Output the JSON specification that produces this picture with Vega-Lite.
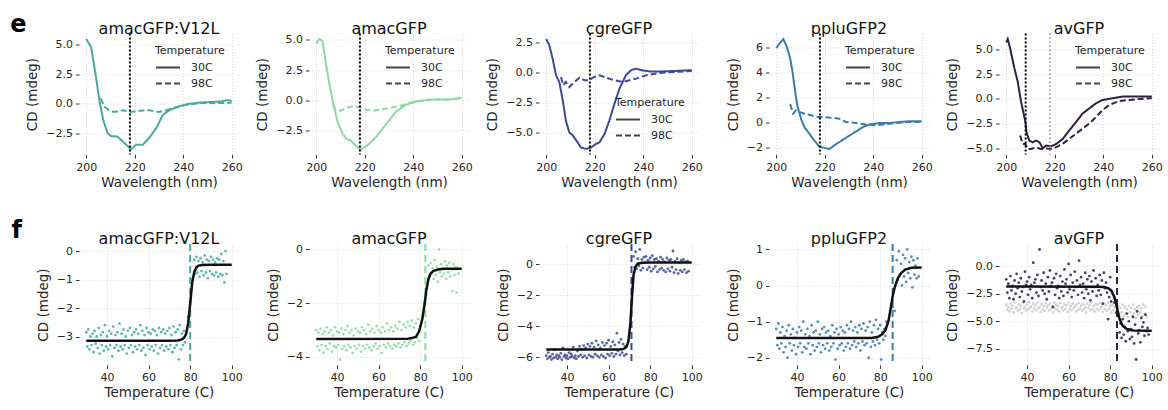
{
"$schema":"https://vega.github.io/schema/vega-lite/v6.json",
"padding":{"left":10,"top":12.5,"right":4,"bottom":4},
"datasets":{
"vt":[{"p":"A","x":218},{"p":"B","x":218},{"p":"C","x":218},{"p":"D","x":218},{"p":"E","x":208}],
"vt2":[{"p":"E","x":218}],
"vb":[{"p":"A","x":80},{"p":"B","x":82.5},{"p":"C","x":71},{"p":"D","x":86},{"p":"E","x":83.3}],
"sA":[{"t":"30C","x":200,"y":5.5},{"t":"30C","x":202,"y":4.8},{"t":"30C","x":204,"y":2.3},{"t":"30C","x":205.4,"y":0.3},{"t":"30C","x":207,"y":-1.4},{"t":"30C","x":208.8,"y":-2.5},{"t":"30C","x":210.2,"y":-2.75},{"t":"30C","x":212.9,"y":-2.8},{"t":"30C","x":215,"y":-3.2},{"t":"30C","x":217.8,"y":-3.75},{"t":"30C","x":218.5,"y":-3.85},{"t":"30C","x":220.5,"y":-3.5},{"t":"30C","x":223.3,"y":-3.5},{"t":"30C","x":226,"y":-2.9},{"t":"30C","x":228.8,"y":-2.1},{"t":"30C","x":231.6,"y":-0.95},{"t":"30C","x":234.3,"y":-0.55},{"t":"30C","x":238.5,"y":-0.2},{"t":"30C","x":242.6,"y":0.0},{"t":"30C","x":246.8,"y":0.1},{"t":"30C","x":252,"y":0.15},{"t":"30C","x":256,"y":0.2},{"t":"30C","x":258,"y":0.3},{"t":"30C","x":260,"y":0.25},
{"t":"98C","x":206,"y":0.45},{"t":"98C","x":207.4,"y":-0.25},{"t":"98C","x":209.4,"y":-0.55},{"t":"98C","x":211.5,"y":-0.7},{"t":"98C","x":215,"y":-0.55},{"t":"98C","x":218.5,"y":-0.7},{"t":"98C","x":222,"y":-0.6},{"t":"98C","x":226,"y":-0.55},{"t":"98C","x":230,"y":-0.7},{"t":"98C","x":233,"y":-0.55},{"t":"98C","x":237,"y":-0.3},{"t":"98C","x":241,"y":-0.1},{"t":"98C","x":247,"y":0.05},{"t":"98C","x":252,"y":0.05},{"t":"98C","x":258,"y":0.05},{"t":"98C","x":260,"y":0.1}],
"sB":[{"t":"30C","x":200,"y":4.7},{"t":"30C","x":201.2,"y":5.07},{"t":"30C","x":202.6,"y":4.9},{"t":"30C","x":204,"y":3.0},{"t":"30C","x":205.4,"y":1.33},{"t":"30C","x":206.8,"y":-0.1},{"t":"30C","x":208.8,"y":-1.8},{"t":"30C","x":210.9,"y":-2.8},{"t":"30C","x":212.3,"y":-3.2},{"t":"30C","x":214.3,"y":-3.35},{"t":"30C","x":216.4,"y":-3.8},{"t":"30C","x":217.8,"y":-4.05},{"t":"30C","x":219.2,"y":-4.0},{"t":"30C","x":222,"y":-3.6},{"t":"30C","x":224.7,"y":-3.05},{"t":"30C","x":227.4,"y":-2.35},{"t":"30C","x":230.2,"y":-1.65},{"t":"30C","x":232.9,"y":-0.95},{"t":"30C","x":237.1,"y":-0.37},{"t":"30C","x":241.2,"y":-0.1},{"t":"30C","x":246.8,"y":0.05},{"t":"30C","x":250.9,"y":0.05},{"t":"30C","x":255,"y":0.05},{"t":"30C","x":260,"y":0.2},
{"t":"98C","x":206.8,"y":-0.37},{"t":"98C","x":208.1,"y":-0.8},{"t":"98C","x":210.2,"y":-0.88},{"t":"98C","x":212.3,"y":-0.65},{"t":"98C","x":215,"y":-0.5},{"t":"98C","x":217.8,"y":-0.6},{"t":"98C","x":220.6,"y":-0.8},{"t":"98C","x":223.3,"y":-0.88},{"t":"98C","x":226,"y":-0.8},{"t":"98C","x":230.2,"y":-0.65},{"t":"98C","x":234.3,"y":-0.5},{"t":"98C","x":238.5,"y":-0.23},{"t":"98C","x":242.6,"y":-0.1},{"t":"98C","x":248.1,"y":0.05},{"t":"98C","x":253.7,"y":0.05},{"t":"98C","x":260,"y":0.15}],
"sC":[{"t":"30C","x":200,"y":2.78},{"t":"30C","x":201.2,"y":2.3},{"t":"30C","x":202.6,"y":1.17},{"t":"30C","x":204,"y":-0.2},{"t":"30C","x":205.4,"y":-0.8},{"t":"30C","x":206.8,"y":-2.3},{"t":"30C","x":208.1,"y":-4.0},{"t":"30C","x":209.5,"y":-4.95},{"t":"30C","x":210.9,"y":-5.2},{"t":"30C","x":212.3,"y":-5.6},{"t":"30C","x":214.3,"y":-6.2},{"t":"30C","x":216.4,"y":-6.33},{"t":"30C","x":218.5,"y":-6.2},{"t":"30C","x":220.6,"y":-5.9},{"t":"30C","x":221.9,"y":-5.8},{"t":"30C","x":224,"y":-5.1},{"t":"30C","x":226,"y":-4.0},{"t":"30C","x":228.1,"y":-2.6},{"t":"30C","x":230.2,"y":-1.33},{"t":"30C","x":232.9,"y":-0.2},{"t":"30C","x":235,"y":0.2},{"t":"30C","x":237.1,"y":0.33},{"t":"30C","x":239.2,"y":0.2},{"t":"30C","x":242.6,"y":0.1},{"t":"30C","x":248.1,"y":0.1},{"t":"30C","x":253.7,"y":0.14},{"t":"30C","x":260,"y":0.2},
{"t":"98C","x":206.1,"y":-0.36},{"t":"98C","x":207,"y":-1.05},{"t":"98C","x":208.1,"y":-0.78},{"t":"98C","x":209.5,"y":-1.2},{"t":"98C","x":211.6,"y":-0.78},{"t":"98C","x":213.7,"y":-0.42},{"t":"98C","x":215.7,"y":-0.64},{"t":"98C","x":217.8,"y":-0.64},{"t":"98C","x":219.2,"y":-0.42},{"t":"98C","x":221.9,"y":-0.22},{"t":"98C","x":224.7,"y":-0.42},{"t":"98C","x":228.1,"y":-0.64},{"t":"98C","x":231.6,"y":-0.78},{"t":"98C","x":234.3,"y":-0.64},{"t":"98C","x":237.1,"y":-0.5},{"t":"98C","x":241.2,"y":-0.22},{"t":"98C","x":246.8,"y":-0.03},{"t":"98C","x":252.3,"y":0.05},{"t":"98C","x":260,"y":0.14}],
"sD":[{"t":"30C","x":200,"y":5.96},{"t":"30C","x":201.5,"y":6.36},{"t":"30C","x":202.9,"y":6.68},{"t":"30C","x":204.3,"y":6.09},{"t":"30C","x":205.7,"y":5.15},{"t":"30C","x":206.8,"y":3.94},{"t":"30C","x":207.9,"y":2.32},{"t":"30C","x":208.8,"y":1.24},{"t":"30C","x":210.2,"y":0.3},{"t":"30C","x":211.6,"y":-0.38},{"t":"30C","x":213.7,"y":-0.92},{"t":"30C","x":215.7,"y":-1.46},{"t":"30C","x":217.8,"y":-1.94},{"t":"30C","x":219.9,"y":-2.05},{"t":"30C","x":221.9,"y":-2.13},{"t":"30C","x":224.7,"y":-1.73},{"t":"30C","x":227.4,"y":-1.4},{"t":"30C","x":230.2,"y":-1.05},{"t":"30C","x":232.9,"y":-0.73},{"t":"30C","x":235.7,"y":-0.38},{"t":"30C","x":238.5,"y":-0.16},{"t":"30C","x":242.6,"y":-0.05},{"t":"30C","x":246.8,"y":-0.05},{"t":"30C","x":250.9,"y":0.03},{"t":"30C","x":255,"y":0.1},{"t":"30C","x":260,"y":0.1},
{"t":"98C","x":205.7,"y":1.46},{"t":"98C","x":207,"y":0.7},{"t":"98C","x":208.1,"y":0.97},{"t":"98C","x":209.5,"y":0.84},{"t":"98C","x":211.6,"y":0.7},{"t":"98C","x":214.3,"y":0.57},{"t":"98C","x":217.1,"y":0.43},{"t":"98C","x":219.9,"y":0.43},{"t":"98C","x":222.6,"y":0.38},{"t":"98C","x":226,"y":0.3},{"t":"98C","x":228.8,"y":0.03},{"t":"98C","x":232.9,"y":-0.05},{"t":"98C","x":237.1,"y":-0.16},{"t":"98C","x":241.2,"y":-0.24},{"t":"98C","x":244,"y":-0.16},{"t":"98C","x":249.5,"y":-0.05},{"t":"98C","x":255,"y":0.03},{"t":"98C","x":260,"y":0.03}],
"sE":[{"t":"30C","x":200,"y":5.7},{"t":"30C","x":200.6,"y":6.04},{"t":"30C","x":201.5,"y":5.2},{"t":"30C","x":203.3,"y":3.14},{"t":"30C","x":204.7,"y":1.77},{"t":"30C","x":206.1,"y":-0.27},{"t":"30C","x":207,"y":-1.3},{"t":"30C","x":207.9,"y":-2.32},{"t":"30C","x":208.3,"y":-3.34},{"t":"30C","x":209.5,"y":-4.2},{"t":"30C","x":210.9,"y":-4.37},{"t":"30C","x":212.3,"y":-4.2},{"t":"30C","x":213.7,"y":-4.37},{"t":"30C","x":215.1,"y":-4.98},{"t":"30C","x":216.4,"y":-4.7},{"t":"30C","x":218.5,"y":-4.78},{"t":"30C","x":220.6,"y":-4.54},{"t":"30C","x":223.3,"y":-4.03},{"t":"30C","x":226,"y":-3.17},{"t":"30C","x":228.8,"y":-2.32},{"t":"30C","x":231.5,"y":-1.47},{"t":"30C","x":234.2,"y":-0.96},{"t":"30C","x":237,"y":-0.44},{"t":"30C","x":239.7,"y":-0.1},{"t":"30C","x":243.9,"y":0.07},{"t":"30C","x":248,"y":0.24},{"t":"30C","x":253.5,"y":0.24},{"t":"30C","x":260,"y":0.24},
{"t":"98C","x":205.7,"y":-3.69},{"t":"98C","x":206.8,"y":-4.54},{"t":"98C","x":207.9,"y":-4.54},{"t":"98C","x":208.8,"y":-5.05},{"t":"98C","x":210.1,"y":-5.05},{"t":"98C","x":212.3,"y":-4.88},{"t":"98C","x":214.2,"y":-5.05},{"t":"98C","x":216.3,"y":-4.98},{"t":"98C","x":218.3,"y":-5.05},{"t":"98C","x":220.4,"y":-4.88},{"t":"98C","x":223.2,"y":-4.54},{"t":"98C","x":225.9,"y":-4.03},{"t":"98C","x":228.7,"y":-3.52},{"t":"98C","x":231.4,"y":-3.0},{"t":"98C","x":234.2,"y":-2.49},{"t":"98C","x":237,"y":-1.81},{"t":"98C","x":239.7,"y":-1.13},{"t":"98C","x":242.5,"y":-0.61},{"t":"98C","x":246.6,"y":-0.2},{"t":"98C","x":250.8,"y":-0.1},{"t":"98C","x":254.9,"y":0},{"t":"98C","x":260,"y":0.07}],
"mA":[{"x":30,"y":-2.85},{"x":30.5,"y":-3.35},{"x":31,"y":-2.75},{"x":31.5,"y":-3.45},{"x":32,"y":-3.0},{"x":32.5,"y":-3.3},{"x":33,"y":-2.9},{"x":33.5,"y":-3.55},{"x":34,"y":-2.8},{"x":34.5,"y":-3.25},{"x":35,"y":-3.0},{"x":35.5,"y":-3.4},{"x":36,"y":-2.7},{"x":36.5,"y":-3.6},{"x":37,"y":-2.95},{"x":37.5,"y":-3.3},{"x":38,"y":-2.85},{"x":38.5,"y":-3.5},{"x":39,"y":-2.6},{"x":39.5,"y":-3.35},{"x":40,"y":-3.0},{"x":40.5,"y":-3.45},{"x":41,"y":-2.8},{"x":41.5,"y":-3.3},{"x":42,"y":-2.9},{"x":42.5,"y":-3.7},{"x":43,"y":-2.65},{"x":43.5,"y":-3.4},{"x":44,"y":-2.95},{"x":44.5,"y":-3.3},{"x":45,"y":-2.85},{"x":45.5,"y":-3.5},{"x":46,"y":-2.55},{"x":46.5,"y":-3.35},{"x":47,"y":-2.9},{"x":47.5,"y":-3.45},{"x":48,"y":-2.75},{"x":48.5,"y":-3.3},{"x":49,"y":-3.0},{"x":49.5,"y":-3.6},{"x":50,"y":-2.8},{"x":50.5,"y":-3.4},{"x":51,"y":-2.7},{"x":51.5,"y":-3.3},{"x":52,"y":-2.95},{"x":52.5,"y":-3.55},{"x":53,"y":-2.85},{"x":53.5,"y":-3.35},{"x":54,"y":-2.75},{"x":54.5,"y":-3.45},{"x":55,"y":-2.9},{"x":55.5,"y":-3.3},{"x":56,"y":-2.6},{"x":56.5,"y":-3.5},{"x":57,"y":-2.8},{"x":57.5,"y":-3.4},{"x":58,"y":-2.95},{"x":58.5,"y":-3.65},{"x":59,"y":-2.7},{"x":59.5,"y":-3.3},{"x":60,"y":-2.85},{"x":60.5,"y":-3.45},{"x":61,"y":-2.9},{"x":61.5,"y":-3.35},{"x":62,"y":-2.75},{"x":62.5,"y":-3.5},{"x":63,"y":-2.8},{"x":63.5,"y":-3.3},{"x":64,"y":-2.95},{"x":64.5,"y":-3.6},{"x":65,"y":-2.7},{"x":65.5,"y":-3.4},{"x":66,"y":-2.85},{"x":66.5,"y":-3.3},{"x":67,"y":-2.75},{"x":67.5,"y":-3.5},{"x":68,"y":-2.9},{"x":68.5,"y":-3.35},{"x":69,"y":-2.8},{"x":69.5,"y":-3.45},{"x":70,"y":-2.7},{"x":70.5,"y":-3.3},{"x":71,"y":-2.95},{"x":71.5,"y":-3.55},{"x":72,"y":-2.65},{"x":72.5,"y":-3.4},{"x":73,"y":-2.85},{"x":73.5,"y":-3.3},{"x":74,"y":-2.75},{"x":74.5,"y":-3.8},{"x":75,"y":-2.6},{"x":75.5,"y":-3.45},{"x":76,"y":-2.9},{"x":76.5,"y":-3.3},{"x":77,"y":-2.8},{"x":77.5,"y":-3.2},{"x":79,"y":-2.3},{"x":80,"y":-1.8},{"x":81,"y":-1.0},{"x":82,"y":-0.3},{"x":82.5,"y":-0.8},{"x":83,"y":-0.2},{"x":83.5,"y":-0.75},{"x":84,"y":-0.35},{"x":84.5,"y":-0.9},{"x":85,"y":-0.25},{"x":85.5,"y":-0.7},{"x":86,"y":-0.4},{"x":86.5,"y":-0.85},{"x":87,"y":-0.15},{"x":87.5,"y":-0.75},{"x":88,"y":-0.3},{"x":88.5,"y":-0.95},{"x":89,"y":-0.35},{"x":89.5,"y":-0.7},{"x":90,"y":-0.2},{"x":90.5,"y":-0.8},{"x":91,"y":-0.3},{"x":91.5,"y":-0.85},{"x":92,"y":-0.4},{"x":92.5,"y":-0.75},{"x":93,"y":-0.25},{"x":93.5,"y":-0.9},{"x":94,"y":-0.3},{"x":94.5,"y":-0.8},{"x":95,"y":-0.1},{"x":95.5,"y":-0.85},{"x":96,"y":-0.35},{"x":96.5,"y":-1.1},{"x":97,"y":0.0},{"x":97.5,"y":-0.8}],
"mB":[{"x":30,"y":-3.0},{"x":30.5,"y":-3.6},{"x":31,"y":-3.1},{"x":31.5,"y":-3.75},{"x":32,"y":-2.95},{"x":32.5,"y":-3.55},{"x":33,"y":-3.15},{"x":33.5,"y":-3.85},{"x":34,"y":-3.05},{"x":34.5,"y":-3.6},{"x":35,"y":-2.9},{"x":35.5,"y":-3.7},{"x":36,"y":-3.1},{"x":36.5,"y":-3.5},{"x":37,"y":-3.0},{"x":37.5,"y":-3.8},{"x":38,"y":-3.2},{"x":38.5,"y":-3.6},{"x":39,"y":-2.9},{"x":39.5,"y":-3.65},{"x":40,"y":-3.05},{"x":40.5,"y":-3.55},{"x":41,"y":-3.1},{"x":41.5,"y":-4.1},{"x":42,"y":-2.95},{"x":42.5,"y":-3.7},{"x":43,"y":-3.15},{"x":43.5,"y":-3.6},{"x":44,"y":-3.0},{"x":44.5,"y":-3.75},{"x":45,"y":-2.85},{"x":45.5,"y":-3.55},{"x":46,"y":-3.1},{"x":46.5,"y":-3.65},{"x":47,"y":-3.0},{"x":47.5,"y":-3.85},{"x":48,"y":-3.2},{"x":48.5,"y":-3.6},{"x":49,"y":-2.95},{"x":49.5,"y":-3.7},{"x":50,"y":-3.05},{"x":50.5,"y":-3.55},{"x":51,"y":-3.1},{"x":51.5,"y":-3.8},{"x":52,"y":-2.9},{"x":52.5,"y":-3.6},{"x":53,"y":-3.0},{"x":53.5,"y":-3.7},{"x":54,"y":-3.15},{"x":54.5,"y":-3.55},{"x":55,"y":-2.8},{"x":55.5,"y":-3.65},{"x":56,"y":-3.05},{"x":56.5,"y":-3.75},{"x":57,"y":-2.95},{"x":57.5,"y":-3.6},{"x":58,"y":-3.1},{"x":58.5,"y":-3.5},{"x":59,"y":-2.85},{"x":59.5,"y":-3.7},{"x":60,"y":-3.0},{"x":60.5,"y":-3.6},{"x":61,"y":-3.1},{"x":61.5,"y":-3.85},{"x":62,"y":-2.9},{"x":62.5,"y":-3.55},{"x":63,"y":-3.05},{"x":63.5,"y":-3.65},{"x":64,"y":-2.75},{"x":64.5,"y":-3.5},{"x":65,"y":-3.0},{"x":65.5,"y":-3.6},{"x":66,"y":-2.9},{"x":66.5,"y":-3.7},{"x":67,"y":-3.05},{"x":67.5,"y":-3.55},{"x":68,"y":-2.85},{"x":68.5,"y":-3.6},{"x":69,"y":-2.95},{"x":69.5,"y":-3.5},{"x":70,"y":-2.7},{"x":70.5,"y":-3.65},{"x":71,"y":-3.0},{"x":71.5,"y":-3.55},{"x":72,"y":-2.8},{"x":72.5,"y":-3.45},{"x":73,"y":-2.9},{"x":73.5,"y":-3.6},{"x":74,"y":-2.7},{"x":74.5,"y":-3.5},{"x":75,"y":-2.85},{"x":75.5,"y":-3.4},{"x":76,"y":-2.65},{"x":76.5,"y":-3.55},{"x":77,"y":-2.9},{"x":77.5,"y":-3.45},{"x":78,"y":-2.75},{"x":78.5,"y":-3.3},{"x":79,"y":-2.6},{"x":79.5,"y":-3.4},{"x":80,"y":-2.85},{"x":82,"y":-2.0},{"x":83,"y":-1.3},{"x":84,"y":-0.6},{"x":84.5,"y":-1.0},{"x":85,"y":-0.5},{"x":85.5,"y":-0.9},{"x":86,"y":-0.7},{"x":86.5,"y":-1.1},{"x":87,"y":-0.4},{"x":87.5,"y":-0.95},{"x":88,"y":-0.65},{"x":88.5,"y":-1.2},{"x":89,"y":0.0},{"x":89.5,"y":-0.85},{"x":90,"y":-0.55},{"x":90.5,"y":-1.0},{"x":91,"y":-0.7},{"x":91.5,"y":-0.9},{"x":92,"y":-0.45},{"x":92.5,"y":-1.1},{"x":93,"y":-0.6},{"x":93.5,"y":-0.85},{"x":94,"y":-0.5},{"x":94.5,"y":-1.0},{"x":95,"y":-0.75},{"x":95.5,"y":-1.55},{"x":96,"y":-0.55},{"x":96.5,"y":-0.95},{"x":97,"y":-0.65},{"x":97.5,"y":-1.6},{"x":98,"y":-0.7},{"x":98.5,"y":-0.9}],
"mC":[{"x":30,"y":-5.9},{"x":30.5,"y":-6.1},{"x":31,"y":-5.7},{"x":31.5,"y":-6.0},{"x":32,"y":-5.95},{"x":32.5,"y":-6.15},{"x":33,"y":-5.8},{"x":33.5,"y":-6.05},{"x":34,"y":-5.5},{"x":34.5,"y":-6.0},{"x":35,"y":-5.85},{"x":35.5,"y":-6.1},{"x":36,"y":-5.9},{"x":36.5,"y":-6.0},{"x":37,"y":-5.75},{"x":37.5,"y":-6.15},{"x":38,"y":-5.4},{"x":38.5,"y":-5.95},{"x":39,"y":-5.85},{"x":39.5,"y":-6.05},{"x":40,"y":-5.9},{"x":40.5,"y":-6.1},{"x":41,"y":-5.7},{"x":41.5,"y":-6.0},{"x":42,"y":-5.8},{"x":42.5,"y":-5.95},{"x":43,"y":-5.35},{"x":43.5,"y":-6.05},{"x":44,"y":-5.9},{"x":44.5,"y":-6.1},{"x":45,"y":-5.6},{"x":45.5,"y":-5.95},{"x":46,"y":-5.3},{"x":46.5,"y":-5.85},{"x":47,"y":-5.5},{"x":47.5,"y":-6.0},{"x":48,"y":-5.25},{"x":48.5,"y":-5.9},{"x":49,"y":-5.4},{"x":49.5,"y":-6.05},{"x":50,"y":-5.15},{"x":50.5,"y":-5.85},{"x":51,"y":-5.3},{"x":51.5,"y":-5.95},{"x":52,"y":-5.1},{"x":52.5,"y":-6.0},{"x":53,"y":-5.35},{"x":53.5,"y":-5.8},{"x":54,"y":-4.95},{"x":54.5,"y":-5.9},{"x":55,"y":-5.2},{"x":55.5,"y":-6.0},{"x":56,"y":-5.4},{"x":56.5,"y":-5.85},{"x":57,"y":-5.05},{"x":57.5,"y":-5.95},{"x":58,"y":-5.25},{"x":58.5,"y":-6.05},{"x":59,"y":-5.1},{"x":59.5,"y":-5.8},{"x":60,"y":-4.9},{"x":60.5,"y":-5.9},{"x":61,"y":-5.3},{"x":61.5,"y":-5.75},{"x":62,"y":-5.0},{"x":62.5,"y":-5.95},{"x":63,"y":-5.2},{"x":63.5,"y":-5.8},{"x":64,"y":-4.45},{"x":64.5,"y":-5.6},{"x":65,"y":-5.05},{"x":65.5,"y":-5.85},{"x":66,"y":-4.85},{"x":66.5,"y":-5.7},{"x":67,"y":-5.15},{"x":67.5,"y":-5.9},{"x":68,"y":-5.3},{"x":68.5,"y":-5.8},{"x":72,"y":0.5},{"x":72.5,"y":-0.2},{"x":73,"y":0.8},{"x":73.5,"y":-0.3},{"x":74,"y":0.35},{"x":74.5,"y":-0.1},{"x":75,"y":0.95},{"x":75.5,"y":-0.4},{"x":76,"y":0.3},{"x":76.5,"y":-0.25},{"x":77,"y":0.45},{"x":77.5,"y":0.1},{"x":78,"y":0.5},{"x":78.5,"y":-0.35},{"x":79,"y":0.25},{"x":79.5,"y":-0.2},{"x":80,"y":0.4},{"x":80.5,"y":-0.45},{"x":81,"y":0.55},{"x":81.5,"y":-0.3},{"x":82,"y":0.3},{"x":82.5,"y":-0.15},{"x":83,"y":0.35},{"x":83.5,"y":-0.5},{"x":84,"y":0.2},{"x":84.5,"y":-0.35},{"x":85,"y":0.45},{"x":85.5,"y":-0.25},{"x":86,"y":0.3},{"x":86.5,"y":-0.4},{"x":87,"y":0.15},{"x":87.5,"y":-0.5},{"x":88,"y":0.4},{"x":88.5,"y":-0.3},{"x":89,"y":0.25},{"x":89.5,"y":-0.45},{"x":90,"y":0.3},{"x":90.5,"y":-0.2},{"x":91,"y":0.85},{"x":91.5,"y":-0.55},{"x":92,"y":0.2},{"x":92.5,"y":-0.35},{"x":93,"y":0.35},{"x":93.5,"y":-0.6},{"x":94,"y":0.1},{"x":94.5,"y":-0.4},{"x":95,"y":0.25},{"x":95.5,"y":-0.5},{"x":96,"y":0.3},{"x":96.5,"y":-0.35},{"x":97,"y":0.15},{"x":97.5,"y":-0.55},{"x":98,"y":0.2},{"x":98.5,"y":-0.45}],
"mD":[{"x":30,"y":-1.2},{"x":30.5,"y":-1.65},{"x":31,"y":-1.05},{"x":31.5,"y":-1.75},{"x":32,"y":-1.3},{"x":32.5,"y":-1.6},{"x":33,"y":-1.15},{"x":33.5,"y":-1.85},{"x":34,"y":-1.4},{"x":34.5,"y":-1.7},{"x":35,"y":-1.25},{"x":35.5,"y":-2.0},{"x":36,"y":-1.1},{"x":36.5,"y":-1.6},{"x":37,"y":-1.35},{"x":37.5,"y":-1.8},{"x":38,"y":-1.2},{"x":38.5,"y":-1.65},{"x":39,"y":-1.45},{"x":39.5,"y":-1.9},{"x":40,"y":-1.3},{"x":40.5,"y":-1.7},{"x":41,"y":-1.15},{"x":41.5,"y":-1.6},{"x":42,"y":-1.25},{"x":42.5,"y":-1.85},{"x":43,"y":-1.0},{"x":43.5,"y":-1.7},{"x":44,"y":-1.35},{"x":44.5,"y":-1.75},{"x":45,"y":-1.2},{"x":45.5,"y":-1.6},{"x":46,"y":-1.4},{"x":46.5,"y":-1.9},{"x":47,"y":-1.1},{"x":47.5,"y":-1.65},{"x":48,"y":-1.3},{"x":48.5,"y":-1.8},{"x":49,"y":-1.25},{"x":49.5,"y":-1.7},{"x":50,"y":-1.0},{"x":50.5,"y":-1.6},{"x":51,"y":-1.35},{"x":51.5,"y":-1.85},{"x":52,"y":-1.2},{"x":52.5,"y":-1.65},{"x":53,"y":-1.15},{"x":53.5,"y":-1.75},{"x":54,"y":-1.3},{"x":54.5,"y":-1.6},{"x":55,"y":-1.25},{"x":55.5,"y":-1.8},{"x":56,"y":-1.4},{"x":56.5,"y":-1.7},{"x":57,"y":-1.1},{"x":57.5,"y":-1.6},{"x":58,"y":-1.3},{"x":58.5,"y":-2.05},{"x":59,"y":-1.2},{"x":59.5,"y":-1.75},{"x":60,"y":-1.35},{"x":60.5,"y":-1.65},{"x":61,"y":-1.15},{"x":61.5,"y":-1.6},{"x":62,"y":-1.25},{"x":62.5,"y":-1.8},{"x":63,"y":-1.3},{"x":63.5,"y":-1.7},{"x":64,"y":-1.1},{"x":64.5,"y":-1.6},{"x":65,"y":-1.2},{"x":65.5,"y":-1.75},{"x":66,"y":-1.0},{"x":66.5,"y":-1.65},{"x":67,"y":-1.25},{"x":67.5,"y":-1.55},{"x":68,"y":-1.15},{"x":68.5,"y":-1.7},{"x":69,"y":-1.3},{"x":69.5,"y":-1.6},{"x":70,"y":-1.1},{"x":70.5,"y":-1.8},{"x":71,"y":-1.2},{"x":71.5,"y":-1.55},{"x":72,"y":-1.05},{"x":72.5,"y":-1.65},{"x":73,"y":-1.25},{"x":73.5,"y":-1.6},{"x":74,"y":-1.15},{"x":74.5,"y":-2.0},{"x":75,"y":-1.0},{"x":75.5,"y":-1.7},{"x":76,"y":-1.3},{"x":76.5,"y":-1.55},{"x":77,"y":-1.1},{"x":77.5,"y":-1.65},{"x":78,"y":-0.95},{"x":78.5,"y":-1.5},{"x":79,"y":-1.2},{"x":79.5,"y":-1.6},{"x":80,"y":-1.1},{"x":80.5,"y":-2.05},{"x":81,"y":-1.3},{"x":81.5,"y":-1.5},{"x":82,"y":-1.2},{"x":82.5,"y":-1.4},{"x":83,"y":-1.0},{"x":86,"y":-0.6},{"x":87,"y":-0.7},{"x":88,"y":0.7},{"x":88.5,"y":0.15},{"x":89,"y":0.95},{"x":89.5,"y":0.3},{"x":90,"y":0.6},{"x":90.5,"y":0.0},{"x":91,"y":0.85},{"x":91.5,"y":0.25},{"x":92,"y":0.75},{"x":92.5,"y":0.1},{"x":93,"y":1.0},{"x":93.5,"y":0.35},{"x":94,"y":0.65},{"x":94.5,"y":0.2},{"x":95,"y":0.8},{"x":95.5,"y":-0.05},{"x":96,"y":0.7},{"x":96.5,"y":0.3},{"x":97,"y":0.55},{"x":97.5,"y":0.2},{"x":98,"y":0.75},{"x":98.5,"y":0.25}],
"mE":[{"x":30,"y":-1.2},{"x":30.5,"y":-2.4},{"x":31,"y":-1.6},{"x":31.5,"y":-2.9},{"x":32,"y":-0.9},{"x":32.5,"y":-2.2},{"x":33,"y":-1.8},{"x":33.5,"y":-3.0},{"x":34,"y":-1.3},{"x":34.5,"y":-2.5},{"x":35,"y":-0.7},{"x":35.5,"y":-2.0},{"x":36,"y":-1.5},{"x":36.5,"y":-2.8},{"x":37,"y":-1.1},{"x":37.5,"y":-2.3},{"x":38,"y":-1.9},{"x":38.5,"y":-3.2},{"x":39,"y":-0.5},{"x":39.5,"y":-1.7},{"x":40,"y":-1.4},{"x":40.5,"y":-2.6},{"x":41,"y":-1.0},{"x":41.5,"y":-2.1},{"x":42,"y":-1.7},{"x":42.5,"y":-2.9},{"x":43,"y":0.3},{"x":43.5,"y":-1.5},{"x":44,"y":-1.2},{"x":44.5,"y":-2.4},{"x":45,"y":-0.8},{"x":45.5,"y":-2.7},{"x":46,"y":1.5},{"x":46.5,"y":-1.9},{"x":47,"y":-1.3},{"x":47.5,"y":-2.2},{"x":48,"y":-0.6},{"x":48.5,"y":-2.5},{"x":49,"y":-1.6},{"x":49.5,"y":-3.0},{"x":50,"y":-1.0},{"x":50.5,"y":-2.3},{"x":51,"y":-0.4},{"x":51.5,"y":-1.8},{"x":52,"y":-1.5},{"x":52.5,"y":-3.7},{"x":53,"y":-1.1},{"x":53.5,"y":-2.6},{"x":54,"y":-0.7},{"x":54.5,"y":-2.0},{"x":55,"y":-1.8},{"x":55.5,"y":-2.9},{"x":56,"y":-0.9},{"x":56.5,"y":-2.3},{"x":57,"y":-1.4},{"x":57.5,"y":-2.7},{"x":58,"y":-0.3},{"x":58.5,"y":-1.6},{"x":59,"y":-1.2},{"x":59.5,"y":-2.4},{"x":60,"y":0.2},{"x":60.5,"y":-2.1},{"x":61,"y":-0.8},{"x":61.5,"y":-2.8},{"x":62,"y":-1.5},{"x":62.5,"y":-2.2},{"x":63,"y":-0.5},{"x":63.5,"y":-1.9},{"x":64,"y":-1.3},{"x":64.5,"y":-2.6},{"x":65,"y":0.5},{"x":65.5,"y":-1.7},{"x":66,"y":-1.0},{"x":66.5,"y":-2.4},{"x":67,"y":-1.6},{"x":67.5,"y":-2.9},{"x":68,"y":-0.6},{"x":68.5,"y":-2.1},{"x":69,"y":-1.2},{"x":69.5,"y":-2.5},{"x":70,"y":-0.9},{"x":70.5,"y":-3.1},{"x":71,"y":-1.4},{"x":71.5,"y":-2.3},{"x":72,"y":-0.4},{"x":72.5,"y":-1.9},{"x":73,"y":-1.1},{"x":73.5,"y":-2.7},{"x":74,"y":-1.7},{"x":74.5,"y":-2.2},{"x":75,"y":-0.8},{"x":75.5,"y":-2.6},{"x":76,"y":-1.3},{"x":76.5,"y":-3.4},{"x":77,"y":-0.6},{"x":77.5,"y":-2.0},{"x":78,"y":-1.5},{"x":78.5,"y":-2.4},{"x":79,"y":-4.8},{"x":79.5,"y":-2.8},{"x":80,"y":-1.0},{"x":80.5,"y":-3.2},{"x":82,"y":-3.3},{"x":83,"y":-4.2},{"x":84,"y":-4.5},{"x":84.5,"y":-6.0},{"x":85,"y":-5.2},{"x":85.5,"y":-6.5},{"x":86,"y":-4.8},{"x":86.5,"y":-6.2},{"x":87,"y":-5.5},{"x":87.5,"y":-6.8},{"x":88,"y":-4.3},{"x":88.5,"y":-5.9},{"x":89,"y":-5.0},{"x":89.5,"y":-6.6},{"x":90,"y":-5.7},{"x":90.5,"y":-6.4},{"x":91,"y":-4.6},{"x":91.5,"y":-7.0},{"x":92,"y":-5.3},{"x":92.5,"y":-8.45},{"x":93,"y":-4.1},{"x":93.5,"y":-6.1},{"x":94,"y":-5.8},{"x":94.5,"y":-6.9},{"x":95,"y":-4.7},{"x":95.5,"y":-5.5},{"x":96,"y":-5.1},{"x":96.5,"y":-6.3},{"x":97,"y":-4.4},{"x":97.5,"y":-5.9},{"x":98,"y":-5.6},{"x":98.5,"y":-6.2}],
"mG":[{"x":30,"y":-3.5},{"x":30.5,"y":-3.95},{"x":31,"y":-3.7},{"x":31.5,"y":-4.1},{"x":32,"y":-3.4},{"x":32.5,"y":-3.85},{"x":33,"y":-3.6},{"x":33.5,"y":-4.2},{"x":34,"y":-3.3},{"x":34.5,"y":-3.8},{"x":35,"y":-3.75},{"x":35.5,"y":-4.05},{"x":36,"y":-3.45},{"x":36.5,"y":-3.9},{"x":37,"y":-3.6},{"x":37.5,"y":-4.25},{"x":38,"y":-3.35},{"x":38.5,"y":-3.8},{"x":39,"y":-3.7},{"x":39.5,"y":-4.0},{"x":40,"y":-3.5},{"x":40.5,"y":-3.9},{"x":41,"y":-3.25},{"x":41.5,"y":-3.75},{"x":42,"y":-3.65},{"x":42.5,"y":-4.1},{"x":43,"y":-3.4},{"x":43.5,"y":-3.85},{"x":44,"y":-3.55},{"x":44.5,"y":-4.0},{"x":45,"y":-3.3},{"x":45.5,"y":-3.8},{"x":46,"y":-3.7},{"x":46.5,"y":-4.15},{"x":47,"y":-3.45},{"x":47.5,"y":-3.9},{"x":48,"y":-3.6},{"x":48.5,"y":-4.05},{"x":49,"y":-3.35},{"x":49.5,"y":-3.75},{"x":50,"y":-3.55},{"x":50.5,"y":-4.0},{"x":51,"y":-3.4},{"x":51.5,"y":-3.9},{"x":52,"y":-3.65},{"x":52.5,"y":-4.2},{"x":53,"y":-3.3},{"x":53.5,"y":-3.85},{"x":54,"y":-3.5},{"x":54.5,"y":-3.95},{"x":55,"y":-3.6},{"x":55.5,"y":-4.1},{"x":56,"y":-3.35},{"x":56.5,"y":-3.8},{"x":57,"y":-3.7},{"x":57.5,"y":-4.0},{"x":58,"y":-3.45},{"x":58.5,"y":-3.9},{"x":59,"y":-3.55},{"x":59.5,"y":-4.15},{"x":60,"y":-3.3},{"x":60.5,"y":-3.85},{"x":61,"y":-3.6},{"x":61.5,"y":-4.0},{"x":62,"y":-3.4},{"x":62.5,"y":-3.8},{"x":63,"y":-3.65},{"x":63.5,"y":-4.1},{"x":64,"y":-3.5},{"x":64.5,"y":-3.95},{"x":65,"y":-3.35},{"x":65.5,"y":-3.85},{"x":66,"y":-3.6},{"x":66.5,"y":-4.05},{"x":67,"y":-3.45},{"x":67.5,"y":-3.9},{"x":68,"y":-3.7},{"x":68.5,"y":-4.2},{"x":69,"y":-3.4},{"x":69.5,"y":-3.8},{"x":70,"y":-3.55},{"x":70.5,"y":-4.0},{"x":71,"y":-3.3},{"x":71.5,"y":-3.9},{"x":72,"y":-3.6},{"x":72.5,"y":-4.1},{"x":73,"y":-3.45},{"x":73.5,"y":-3.85},{"x":74,"y":-3.5},{"x":74.5,"y":-4.0},{"x":75,"y":-3.35},{"x":75.5,"y":-3.8},{"x":76,"y":-3.65},{"x":76.5,"y":-4.15},{"x":77,"y":-3.4},{"x":77.5,"y":-3.9},{"x":78,"y":-3.55},{"x":78.5,"y":-4.05},{"x":79,"y":-3.3},{"x":79.5,"y":-3.85},{"x":80,"y":-3.6},{"x":80.5,"y":-4.2},{"x":81,"y":-3.5},{"x":81.5,"y":-4.0},{"x":82,"y":-3.7},{"x":82.5,"y":-4.3},{"x":83,"y":-3.4},{"x":83.5,"y":-4.1},{"x":84,"y":-3.6},{"x":84.5,"y":-4.4},{"x":85,"y":-3.8},{"x":85.5,"y":-4.2},{"x":86,"y":-3.5},{"x":86.5,"y":-4.5},{"x":87,"y":-3.7},{"x":87.5,"y":-4.3},{"x":88,"y":-3.9},{"x":88.5,"y":-4.6},{"x":89,"y":-3.6},{"x":89.5,"y":-4.2},{"x":90,"y":-3.8},{"x":90.5,"y":-4.5},{"x":91,"y":-3.5},{"x":91.5,"y":-4.3},{"x":92,"y":-3.9},{"x":92.5,"y":-4.7},{"x":93,"y":-3.7},{"x":93.5,"y":-4.4},{"x":94,"y":-3.6},{"x":94.5,"y":-4.2},{"x":95,"y":-3.8},{"x":95.5,"y":-4.5},{"x":96,"y":-3.5},{"x":96.5,"y":-4.3},{"x":97,"y":-3.7},{"x":97.5,"y":-4.6}],
"fA":[{"x":30,"y":-3.15},{"x":70,"y":-3.15},{"x":74,"y":-3.14},{"x":76,"y":-3.1},{"x":77,"y":-3.05},{"x":78,"y":-2.92},{"x":79,"y":-2.55},{"x":80,"y":-1.85},{"x":81,"y":-1.1},{"x":82,"y":-0.72},{"x":83,"y":-0.57},{"x":84,"y":-0.51},{"x":86,"y":-0.485},{"x":90,"y":-0.48},{"x":100,"y":-0.48}],
"fB":[{"x":30,"y":-3.33},{"x":74,"y":-3.32},{"x":76,"y":-3.3},{"x":78,"y":-3.25},{"x":79.5,"y":-3.05},{"x":81,"y":-2.6},{"x":82,"y":-2.1},{"x":83,"y":-1.5},{"x":84,"y":-1.1},{"x":85,"y":-0.9},{"x":86.5,"y":-0.8},{"x":89,"y":-0.74},{"x":92,"y":-0.72},{"x":100,"y":-0.72}],
"fC":[{"x":30,"y":-5.5},{"x":65,"y":-5.5},{"x":67,"y":-5.47},{"x":68.5,"y":-5.35},{"x":69.5,"y":-5.0},{"x":70.5,"y":-3.8},{"x":71.3,"y":-2.0},{"x":72,"y":-0.7},{"x":73,"y":-0.15},{"x":74,"y":0.03},{"x":76,"y":0.09},{"x":80,"y":0.1},{"x":100,"y":0.1}],
"fD":[{"x":30,"y":-1.45},{"x":76,"y":-1.45},{"x":79,"y":-1.42},{"x":81,"y":-1.35},{"x":82.5,"y":-1.24},{"x":84,"y":-0.98},{"x":85,"y":-0.65},{"x":86,"y":-0.3},{"x":87,"y":-0.05},{"x":88.5,"y":0.2},{"x":90,"y":0.34},{"x":92,"y":0.44},{"x":95,"y":0.49},{"x":100,"y":0.5}],
"fE":[{"x":30,"y":-1.85},{"x":74,"y":-1.86},{"x":77,"y":-1.9},{"x":79,"y":-2.0},{"x":80.5,"y":-2.2},{"x":82,"y":-2.8},{"x":83.2,"y":-3.7},{"x":84.5,"y":-4.8},{"x":86,"y":-5.4},{"x":88,"y":-5.7},{"x":91,"y":-5.82},{"x":100,"y":-5.85}]
},
"vconcat":[
{"title":{"text":"e","orient":"left","anchor":"end","frame":"bounds","angle":0,"align":"right","baseline":"top","fontSize":24,"fontWeight":"bold","color":"#000","offset":0,"dx":17,"dy":-8},
 "bounds":"flush","spacing":70,
 "resolve":{"scale":{"x":"independent","y":"independent","strokeDash":"independent"},"legend":{"strokeDash":"independent"}},
 "hconcat":[
  {"width":160,"height":121,"title":"amacGFP:V12L",
   "encoding":{"x":{"field":"x","type":"quantitative","scale":{"domain":[197,263],"nice":false,"zero":false},"axis":{"values":[200,220,240,260],"title":"Wavelength (nm)"}}},
   "layer":[
    {"data":{"name":"sA"},"mark":{"type":"line","color":"#4AA99F","strokeWidth":2},
     "encoding":{"y":{"field":"y","type":"quantitative","scale":{"domain":[-4.32,5.97],"nice":false,"zero":false},"axis":{"values":[-2.5,0,2.5,5],"format":".1f","title":"CD (mdeg)"}},
      "strokeDash":{"field":"t","type":"nominal","scale":{"domain":["30C","98C"],"range":[[1,0],[6,3]]},"legend":{"title":"Temperature","orient":"none","legendX":76,"legendY":11,"symbolType":"M-1,0H3","symbolSize":144,"symbolStrokeWidth":2,"symbolStrokeColor":"#444","labelOffset":22}}}},
    {"data":{"name":"vt"},"transform":[{"filter":"datum.p==='A'"}],"mark":{"type":"rule","color":"#000","strokeWidth":2,"strokeDash":[2,2]},"encoding":{}}
   ]},
  {"width":160,"height":121,"title":"amacGFP",
   "encoding":{"x":{"field":"x","type":"quantitative","scale":{"domain":[197,263],"nice":false,"zero":false},"axis":{"values":[200,220,240,260],"title":"Wavelength (nm)"}}},
   "layer":[
    {"data":{"name":"sB"},"mark":{"type":"line","color":"#8ED8A6","strokeWidth":2},
     "encoding":{"y":{"field":"y","type":"quantitative","scale":{"domain":[-4.51,5.53],"nice":false,"zero":false},"axis":{"values":[-2.5,0,2.5,5],"format":".1f","title":"CD (mdeg)"}},
      "strokeDash":{"field":"t","type":"nominal","scale":{"domain":["30C","98C"],"range":[[1,0],[6,3]]},"legend":{"title":"Temperature","orient":"none","legendX":76,"legendY":11,"symbolType":"M-1,0H3","symbolSize":144,"symbolStrokeWidth":2,"symbolStrokeColor":"#444","labelOffset":22}}}},
    {"data":{"name":"vt"},"transform":[{"filter":"datum.p==='B'"}],"mark":{"type":"rule","color":"#000","strokeWidth":2,"strokeDash":[2,2]},"encoding":{}}
   ]},
  {"width":160,"height":121,"title":"cgreGFP",
   "encoding":{"x":{"field":"x","type":"quantitative","scale":{"domain":[197,263],"nice":false,"zero":false},"axis":{"values":[200,220,240,260],"title":"Wavelength (nm)"}}},
   "layer":[
    {"data":{"name":"sC"},"mark":{"type":"line","color":"#3F4A92","strokeWidth":2},
     "encoding":{"y":{"field":"y","type":"quantitative","scale":{"domain":[-6.79,3.24],"nice":false,"zero":false},"axis":{"values":[-5,-2.5,0,2.5],"format":".1f","title":"CD (mdeg)"}},
      "strokeDash":{"field":"t","type":"nominal","scale":{"domain":["30C","98C"],"range":[[1,0],[6,3]]},"legend":{"title":"Temperature","orient":"none","legendX":76,"legendY":63,"symbolType":"M-1,0H3","symbolSize":144,"symbolStrokeWidth":2,"symbolStrokeColor":"#444","labelOffset":22}}}},
    {"data":{"name":"vt"},"transform":[{"filter":"datum.p==='C'"}],"mark":{"type":"rule","color":"#000","strokeWidth":2,"strokeDash":[2,2]},"encoding":{}}
   ]},
  {"width":160,"height":121,"title":"ppluGFP2",
   "encoding":{"x":{"field":"x","type":"quantitative","scale":{"domain":[197,263],"nice":false,"zero":false},"axis":{"values":[200,220,240,260],"title":"Wavelength (nm)"}}},
   "layer":[
    {"data":{"name":"sD"},"mark":{"type":"line","color":"#3D7CA6","strokeWidth":2},
     "encoding":{"y":{"field":"y","type":"quantitative","scale":{"domain":[-2.57,7.12],"nice":false,"zero":false},"axis":{"values":[-2,0,2,4,6],"format":"d","title":"CD (mdeg)"}},
      "strokeDash":{"field":"t","type":"nominal","scale":{"domain":["30C","98C"],"range":[[1,0],[6,3]]},"legend":{"title":"Temperature","orient":"none","legendX":76,"legendY":11,"symbolType":"M-1,0H3","symbolSize":144,"symbolStrokeWidth":2,"symbolStrokeColor":"#444","labelOffset":22}}}},
    {"data":{"name":"vt"},"transform":[{"filter":"datum.p==='D'"}],"mark":{"type":"rule","color":"#000","strokeWidth":2,"strokeDash":[2,2]},"encoding":{}}
   ]},
  {"width":160,"height":121,"title":"avGFP",
   "encoding":{"x":{"field":"x","type":"quantitative","scale":{"domain":[197,263],"nice":false,"zero":false},"axis":{"values":[200,220,240,260],"title":"Wavelength (nm)"}}},
   "layer":[
    {"data":{"name":"sE"},"mark":{"type":"line","color":"#2F2140","strokeWidth":2},
     "encoding":{"y":{"field":"y","type":"quantitative","scale":{"domain":[-5.6,6.6],"nice":false,"zero":false},"axis":{"values":[-5,-2.5,0,2.5,5],"format":".1f","title":"CD (mdeg)"}},
      "strokeDash":{"field":"t","type":"nominal","scale":{"domain":["30C","98C"],"range":[[1,0],[6,3]]},"legend":{"title":"Temperature","orient":"none","legendX":76,"legendY":11,"symbolType":"M-1,0H3","symbolSize":144,"symbolStrokeWidth":2,"symbolStrokeColor":"#444","labelOffset":22}}}},
    {"data":{"name":"vt"},"transform":[{"filter":"datum.p==='E'"}],"mark":{"type":"rule","color":"#000","strokeWidth":2,"strokeDash":[2,2]},"encoding":{}},
    {"data":{"name":"vt2"},"mark":{"type":"rule","color":"#888","strokeWidth":1.5,"strokeDash":[1.5,2.5]},"encoding":{}}
   ]}
 ]},
{"title":{"text":"f","orient":"left","anchor":"end","frame":"bounds","angle":0,"align":"right","baseline":"top","fontSize":24,"fontWeight":"bold","color":"#000","offset":15.5,"dx":11.5,"dy":-12.5},
 "bounds":"flush","spacing":70,
 "resolve":{"scale":{"x":"independent","y":"independent"}},
 "hconcat":[
  {"width":160,"height":121,"title":"amacGFP:V12L",
   "encoding":{"x":{"field":"x","type":"quantitative","scale":{"domain":[26.5,103.5],"nice":false,"zero":false},"axis":{"values":[40,60,80,100],"title":"Temperature (C)"}}},
   "layer":[
    {"data":{"name":"mA"},"mark":{"type":"circle","color":"#4AA99F","size":8,"opacity":0.85},"encoding":{"y":{"field":"y","type":"quantitative","scale":{"domain":[-4.0,0.25],"nice":false,"zero":false},"axis":{"values":[-3,-2,-1,0],"format":"d","title":"CD (mdeg)"}}}},
    {"data":{"name":"vb"},"transform":[{"filter":"datum.p==='A'"}],"mark":{"type":"rule","color":"#4AA99F","strokeWidth":2,"strokeDash":[7,4]},"encoding":{}},
    {"data":{"name":"fA"},"mark":{"type":"line","color":"#111","strokeWidth":2.5},"encoding":{"y":{"field":"y","type":"quantitative"}}}
   ]},
  {"width":160,"height":121,"title":"amacGFP",
   "encoding":{"x":{"field":"x","type":"quantitative","scale":{"domain":[26.5,103.5],"nice":false,"zero":false},"axis":{"values":[40,60,80,100],"title":"Temperature (C)"}}},
   "layer":[
    {"data":{"name":"mB"},"mark":{"type":"circle","color":"#8ED8A6","size":8,"opacity":0.85},"encoding":{"y":{"field":"y","type":"quantitative","scale":{"domain":[-4.3,0.2],"nice":false,"zero":false},"axis":{"values":[-4,-3,-2,-1,0],"format":"d","title":"CD (mdeg)"}}}},
    {"data":{"name":"vb"},"transform":[{"filter":"datum.p==='B'"}],"mark":{"type":"rule","color":"#8ED8A6","strokeWidth":2,"strokeDash":[7,4]},"encoding":{}},
    {"data":{"name":"fB"},"mark":{"type":"line","color":"#111","strokeWidth":2.5},"encoding":{"y":{"field":"y","type":"quantitative"}}}
   ]},
  {"width":160,"height":121,"title":"cgreGFP",
   "encoding":{"x":{"field":"x","type":"quantitative","scale":{"domain":[26.5,103.5],"nice":false,"zero":false},"axis":{"values":[40,60,80,100],"title":"Temperature (C)"}}},
   "layer":[
    {"data":{"name":"mC"},"mark":{"type":"circle","color":"#3F4A92","size":8,"opacity":0.85},"encoding":{"y":{"field":"y","type":"quantitative","scale":{"domain":[-6.5,1.3],"nice":false,"zero":false},"axis":{"values":[-6,-4,-2,0],"format":"d","title":"CD (mdeg)"}}}},
    {"data":{"name":"vb"},"transform":[{"filter":"datum.p==='C'"}],"mark":{"type":"rule","color":"#3F4A92","strokeWidth":2,"strokeDash":[7,4]},"encoding":{}},
    {"data":{"name":"fC"},"mark":{"type":"line","color":"#111","strokeWidth":2.5},"encoding":{"y":{"field":"y","type":"quantitative"}}}
   ]},
  {"width":160,"height":121,"title":"ppluGFP2",
   "encoding":{"x":{"field":"x","type":"quantitative","scale":{"domain":[26.5,103.5],"nice":false,"zero":false},"axis":{"values":[40,60,80,100],"title":"Temperature (C)"}}},
   "layer":[
    {"data":{"name":"mD"},"mark":{"type":"circle","color":"#3D7CA6","size":8,"opacity":0.85},"encoding":{"y":{"field":"y","type":"quantitative","scale":{"domain":[-2.2,1.15],"nice":false,"zero":false},"axis":{"values":[-2,-1,0,1],"format":"d","title":"CD (mdeg)"}}}},
    {"data":{"name":"vb"},"transform":[{"filter":"datum.p==='D'"}],"mark":{"type":"rule","color":"#3D7CA6","strokeWidth":2,"strokeDash":[7,4]},"encoding":{}},
    {"data":{"name":"fD"},"mark":{"type":"line","color":"#111","strokeWidth":2.5},"encoding":{"y":{"field":"y","type":"quantitative"}}}
   ]},
  {"width":160,"height":121,"title":"avGFP",
   "encoding":{"x":{"field":"x","type":"quantitative","scale":{"domain":[26.5,103.5],"nice":false,"zero":false},"axis":{"values":[40,60,80,100],"title":"Temperature (C)"}}},
   "layer":[
    {"data":{"name":"mG"},"mark":{"type":"circle","color":"#CFCFCF","size":8,"opacity":0.9},"encoding":{"y":{"field":"y","type":"quantitative","scale":{"domain":[-8.95,2.0],"nice":false,"zero":false},"axis":{"values":[-7.5,-5,-2.5,0],"format":".1f","title":"CD (mdeg)"}}}},
    {"data":{"name":"mE"},"mark":{"type":"circle","color":"#2F2140","size":8,"opacity":0.85},"encoding":{"y":{"field":"y","type":"quantitative"}}},
    {"data":{"name":"vb"},"transform":[{"filter":"datum.p==='E'"}],"mark":{"type":"rule","color":"#2F2140","strokeWidth":2,"strokeDash":[7,4]},"encoding":{}},
    {"data":{"name":"fE"},"mark":{"type":"line","color":"#111","strokeWidth":2.5},"encoding":{"y":{"field":"y","type":"quantitative"}}}
   ]}
 ]}
],
"spacing":29.5,
"resolve":{"scale":{"x":"independent","y":"independent"}},
"config":{
 "font":"DejaVu Sans",
 "view":{"stroke":null},
 "axis":{"domain":false,"grid":true,"gridColor":"#d9d9d9","gridDash":[1,2],"gridWidth":1,"tickColor":"#333","tickSize":3.5,"tickWidth":1,"labelFontSize":11,"labelColor":"#262626","labelPadding":3,"titleFontSize":13.5,"titleFontWeight":"normal","titleColor":"#262626","titlePadding":6,"labelFont":"DejaVu Sans","titleFont":"DejaVu Sans","labelOverlap":false},
 "axisX":{"titlePadding":3},
 "title":{"fontSize":16,"fontWeight":"normal","color":"#111","offset":-4,"font":"DejaVu Sans"},
 "legend":{"titleFontSize":11,"labelFontSize":11,"titleFontWeight":"normal","titleColor":"#262626","labelColor":"#262626","padding":0,"rowPadding":4,"titlePadding":5,"labelFont":"DejaVu Sans","titleFont":"DejaVu Sans"}
}
}
